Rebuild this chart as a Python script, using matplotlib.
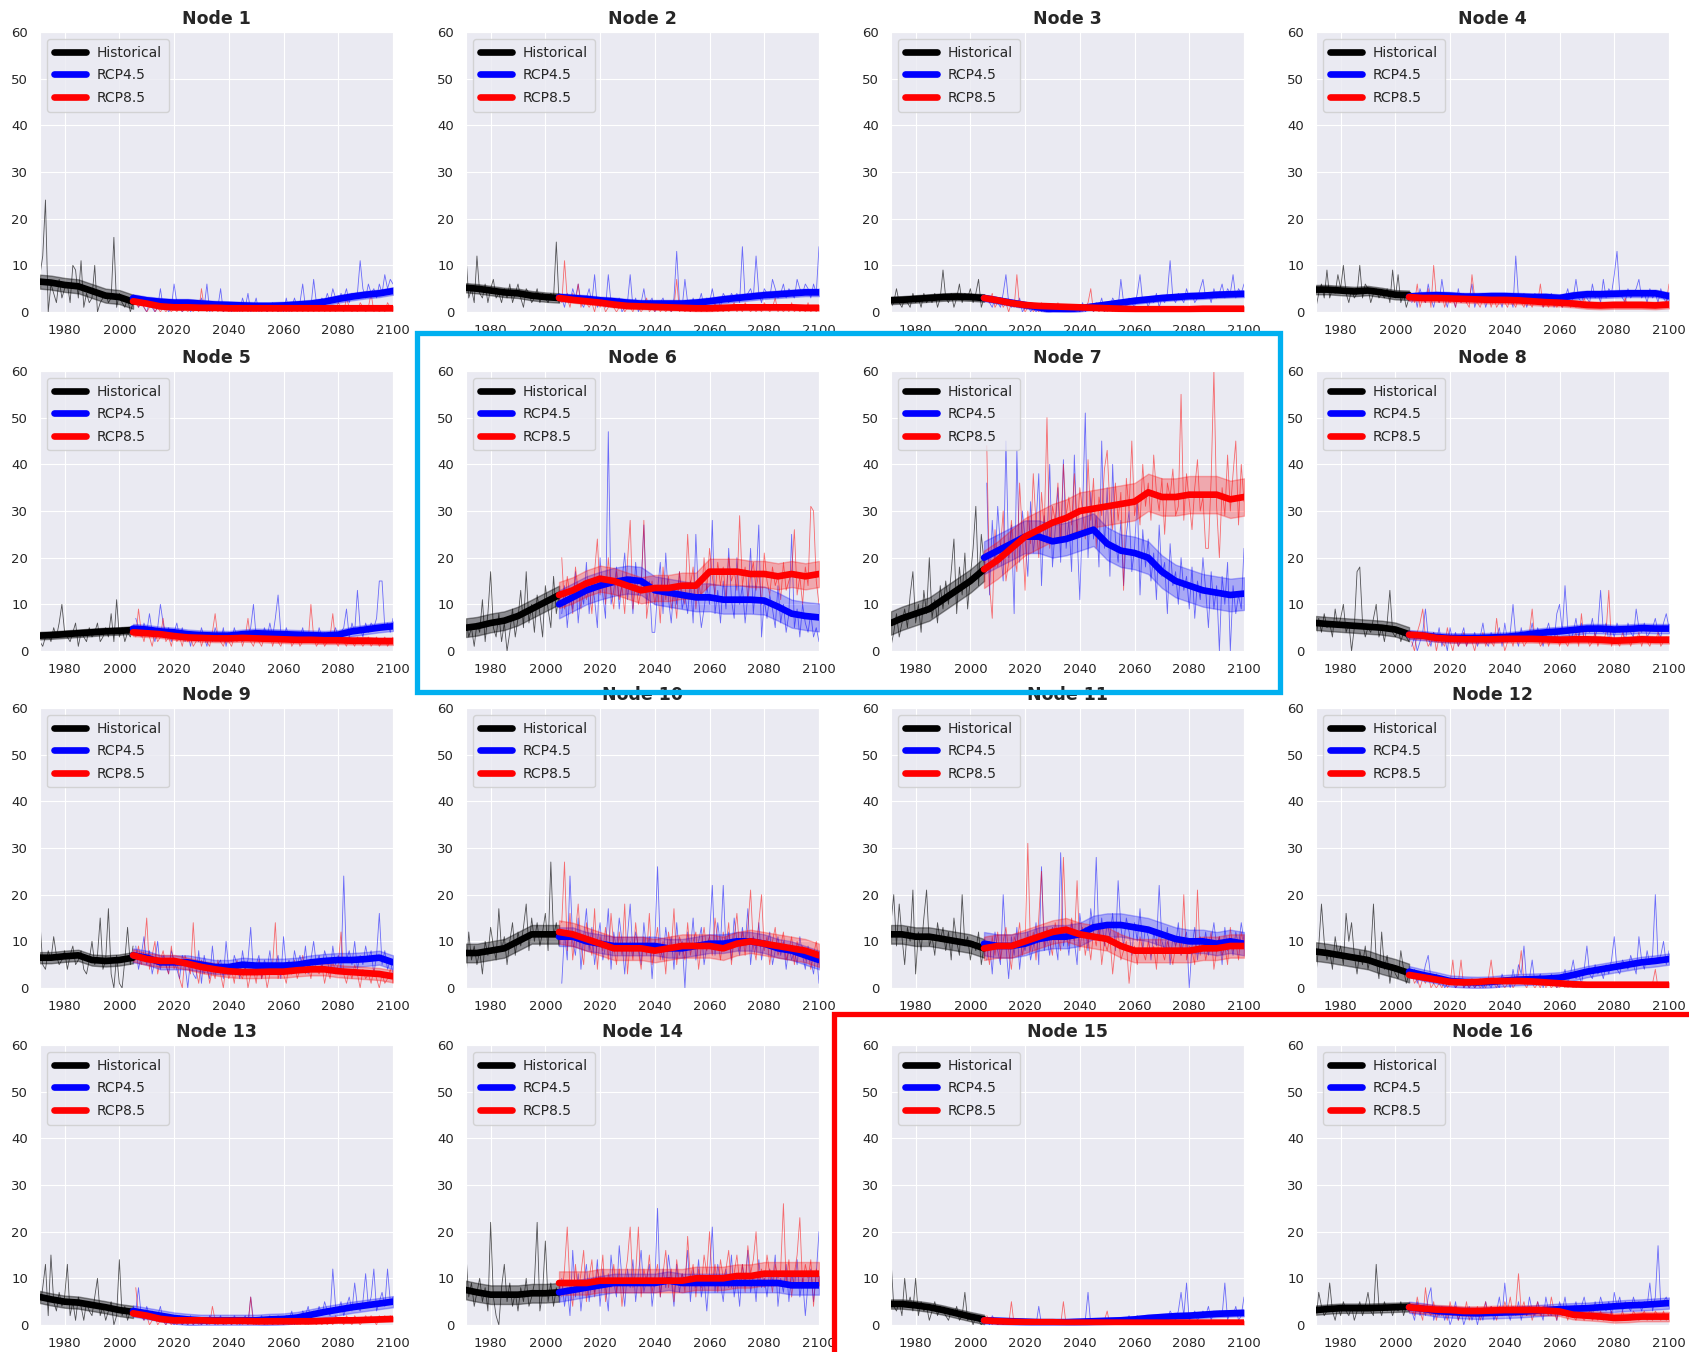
import numpy as np
import matplotlib
matplotlib.use("Agg")
import matplotlib.pyplot as plt
import seaborn as sns
from matplotlib.patches import Rectangle

sns.set_style("darkgrid")
plt.rcParams['font.family'] = ['DejaVu Sans']

# ---------------- data ----------------
HIST_START = 1971
FUT_START = 2006
HIST_KNOTS = [1971, 1975, 1980, 1985, 1990, 1995, 2000, 2005]
FUT_KNOTS = list(range(2005, 2101, 5))

# band half widths (hist, rcp4.5, rcp8.5) per node
BAND_H = [1.5, 1.0, 0.8, 1.0, 0.8, 2.0, 2.5, 1.5, 1.2, 2.0, 2.0, 2.0, 1.3, 2.0, 1.0, 1.0]
BAND_45 = [0.8, 0.8, 0.7, 0.8, 1.0, 3.0, 3.5, 1.0, 1.5, 2.0, 2.5, 1.2, 1.2, 2.0, 0.7, 1.2]
BAND_85 = [0.5, 0.6, 0.5, 0.8, 0.8, 2.8, 4.0, 0.8, 1.3, 2.5, 2.5, 0.5, 0.5, 2.5, 0.4, 1.0]

# Node 1
N1_HM = [6.5, 6.3, 5.8, 5.5, 4.5, 3.5, 3.2, 2.2]
N1_M45 = [3.0, 2.5, 2.2, 2.0, 2.0, 1.8, 1.6, 1.5, 1.4, 1.3, 1.3, 1.4, 1.6, 1.8, 2.2, 2.8, 3.3, 3.7, 4.0, 4.5]
N1_M85 = [2.3, 1.8, 1.2, 1.0, 1.0, 0.9, 0.9, 0.8, 0.8, 0.8, 0.8, 0.8, 0.8, 0.8, 0.8, 0.8, 0.8, 0.8, 0.8, 0.8]
N1_H = [8, 12, 24, 0, 6, 4, 2, 7, 3, 5, 6, 2, 10, 9, 3, 11, 1, 4, 2, 3, 10, 0, 2, 3, 4, 2, 3, 16, 1, 4, 2, 1, 3, 0, 2]
N1_R45 = [3, 1, 2, 1, 0, 2, 1, 0, 1, 5, 1, 2, 0, 1, 6, 2, 1, 0, 1, 2, 0, 1, 2, 1, 3, 1, 6, 0, 1, 2, 1, 5, 0, 1, 1,
          0, 1, 2, 0, 3, 1, 4, 0, 1, 3, 0, 1, 1, 0, 1, 2, 1, 0, 1, 0, 3, 0, 1, 3, 1, 2, 6, 1, 2, 1, 7, 2, 1, 3, 2,
          4, 2, 5, 3, 2, 4, 3, 5, 2, 4, 3, 4, 11, 5, 3, 6, 4, 5, 3, 6, 4, 8, 5, 7, 6]
N1_R85 = [2, 1, 3, 1, 0, 1, 2, 0, 1, 0, 1, 0, 1, 0, 1, 0, 1, 0, 1, 0, 1, 0, 1, 0, 5, 1, 0, 1, 0, 1, 0, 1, 0, 1, 0,
          1, 0, 0, 1, 0, 1, 0, 1, 0, 0, 1, 0, 1, 0, 1, 0, 1, 0, 0, 1, 0, 1, 0, 1, 0, 1, 0, 1, 0, 1, 0, 1, 0, 2, 0,
          1, 0, 1, 0, 2, 1, 0, 3, 1, 0, 1, 0, 2, 1, 0, 1, 4, 0, 1, 0, 1, 0, 2, 1, 0]

# Node 2
N2_HM = [5.2, 5.0, 4.6, 4.2, 4.0, 3.5, 3.2, 3.0]
N2_M45 = [3.2, 3.0, 2.8, 2.5, 2.3, 2.0, 1.8, 1.8, 1.8, 1.8, 2.0, 2.3, 2.7, 3.0, 3.3, 3.6, 3.8, 4.0, 4.2, 4.2]
N2_M85 = [3.0, 2.6, 2.3, 2.0, 1.6, 1.3, 1.2, 1.1, 1.0, 0.9, 0.8, 0.8, 0.9, 1.0, 1.0, 1.0, 1.0, 1.0, 0.9, 0.9]
N2_H = [12, 3, 5, 2, 12, 4, 3, 6, 2, 5, 7, 3, 4, 2, 5, 3, 6, 2, 4, 6, 3, 1, 5, 4, 2, 3, 5, 2, 4, 3, 2, 4, 3, 15, 2]
N2_R45 = [3, 1, 4, 2, 5, 3, 6, 2, 1, 3, 5, 2, 8, 1, 2, 3, 1, 8, 2, 1, 2, 3, 0, 1, 2, 8, 1, 3, 0, 2, 5, 1, 2, 3, 0,
          1, 2, 3, 1, 2, 0, 3, 13, 2, 1, 7, 2, 0, 3, 1, 2, 4, 1, 3, 2, 5, 2, 3, 1, 4, 3, 2, 4, 3, 4, 2, 14, 3, 4, 5,
          3, 12, 4, 2, 5, 4, 3, 7, 5, 3, 4, 6, 3, 5, 4, 3, 7, 5, 4, 6, 5, 3, 6, 4, 14]
N2_R85 = [2, 11, 3, 1, 4, 2, 6, 1, 3, 2, 1, 2, 0, 3, 1, 2, 0, 1, 3, 1, 0, 1, 2, 0, 1, 1, 0, 2, 1, 0, 1, 3, 0, 1, 0,
          2, 0, 1, 0, 1, 0, 1, 7, 0, 1, 0, 1, 0, 2, 0, 1, 0, 1, 0, 1, 0, 2, 0, 1, 0, 1, 0, 1, 2, 0, 1, 0, 2, 1, 0,
          1, 0, 1, 0, 2, 1, 0, 1, 3, 0, 1, 0, 1, 0, 2, 0, 1, 0, 1, 0, 2, 0, 1, 0, 1]

# Node 3
N3_HM = [2.5, 2.6, 2.8, 3.0, 3.2, 3.3, 3.2, 3.0]
N3_M45 = [3.0, 2.5, 2.0, 1.5, 1.0, 0.5, 0.6, 0.8, 1.2, 1.6, 2.0, 2.4, 2.7, 3.0, 3.2, 3.4, 3.5, 3.7, 3.8, 3.9]
N3_M85 = [3.0, 2.5, 1.9, 1.5, 1.3, 1.2, 1.1, 1.0, 0.9, 0.8, 0.7, 0.6, 0.6, 0.6, 0.6, 0.6, 0.7, 0.7, 0.7, 0.7]
N3_H = [1, 2, 5, 2, 1, 3, 2, 1, 4, 2, 3, 1, 4, 2, 3, 2, 4, 1, 3, 9, 3, 2, 4, 1, 3, 6, 2, 4, 3, 5, 2, 4, 7, 1, 3]
N3_R45 = [3, 2, 1, 3, 2, 1, 4, 8, 2, 1, 2, 1, 3, 0, 1, 2, 0, 1, 0, 1, 0, 1, 0, 0, 1, 0, 0, 1, 0, 0, 1, 0, 0, 1, 0,
          2, 0, 1, 1, 0, 2, 1, 3, 0, 2, 1, 3, 2, 1, 7, 2, 1, 3, 2, 1, 4, 8, 2, 3, 1, 3, 2, 4, 1, 3, 2, 4, 11, 3, 2,
          4, 3, 2, 5, 3, 4, 2, 3, 5, 7, 3, 4, 2, 5, 3, 4, 6, 3, 5, 4, 8, 3, 5, 4, 6]
N3_R85 = [3, 2, 4, 1, 2, 3, 1, 2, 0, 2, 1, 8, 1, 2, 0, 1, 2, 0, 1, 0, 2, 0, 1, 0, 1, 0, 2, 0, 1, 0, 1, 0, 0, 1, 0,
          0, 1, 2, 5, 0, 1, 0, 1, 0, 0, 1, 0, 0, 1, 0, 0, 1, 0, 0, 1, 0, 0, 1, 0, 0, 1, 0, 0, 1, 0, 0, 1, 0, 0, 1,
          0, 1, 0, 1, 0, 1, 0, 0, 1, 0, 0, 1, 0, 0, 1, 1, 0, 1, 0, 0, 0, 1, 0, 1, 0]

# Node 4
N4_HM = [4.8, 4.8, 4.6, 4.4, 4.6, 4.2, 3.7, 3.6]
N4_M45 = [3.3, 3.5, 3.6, 3.5, 3.3, 3.3, 3.4, 3.4, 3.3, 3.2, 3.2, 3.0, 3.5, 3.8, 3.8, 3.9, 4.0, 4.0, 4.0, 3.4]
N4_M85 = [3.2, 3.0, 3.0, 2.9, 2.8, 2.7, 2.6, 2.6, 2.5, 2.3, 2.1, 2.0, 1.8, 1.5, 1.4, 1.5, 1.5, 1.5, 1.4, 1.6]
N4_H = [1, 4, 6, 3, 9, 3, 5, 4, 8, 5, 10, 4, 2, 5, 3, 4, 10, 3, 6, 5, 2, 4, 5, 3, 4, 3, 5, 2, 9, 3, 8, 2, 4, 1, 3]
N4_R45 = [2, 4, 1, 5, 3, 2, 6, 3, 1, 4, 2, 7, 3, 1, 4, 3, 1, 5, 2, 4, 2, 3, 6, 1, 3, 2, 4, 1, 3, 2, 4, 2, 3, 1, 4,
          2, 3, 1, 12, 3, 2, 4, 1, 3, 2, 4, 2, 3, 1, 3, 2, 4, 1, 3, 2, 1, 3, 5, 2, 3, 7, 3, 2, 4, 3, 2, 6, 3, 4, 2,
          7, 3, 5, 4, 8, 13, 4, 3, 2, 5, 3, 4, 5, 7, 3, 4, 2, 5, 3, 4, 2, 5, 3, 2, 4]
N4_R85 = [4, 2, 6, 1, 3, 2, 5, 1, 10, 3, 2, 4, 1, 3, 2, 3, 1, 4, 2, 3, 2, 1, 8, 3, 2, 1, 3, 2, 4, 1, 3, 1, 2, 4, 2,
          1, 3, 2, 1, 3, 2, 1, 3, 2, 1, 3, 2, 6, 1, 2, 1, 3, 2, 1, 2, 1, 2, 3, 1, 2, 1, 2, 1, 3, 1, 2, 1, 1, 2, 1,
          1, 2, 1, 1, 2, 1, 2, 1, 3, 1, 2, 1, 1, 2, 1, 1, 2, 1, 1, 2, 1, 2, 1, 2, 6]

# Node 5
N5_HM = [3.3, 3.4, 3.6, 3.8, 4.0, 4.2, 4.3, 4.5]
N5_M45 = [4.8, 4.6, 4.2, 4.0, 3.6, 3.4, 3.3, 3.3, 3.6, 3.8, 3.7, 3.6, 3.5, 3.4, 3.3, 3.5, 4.2, 4.6, 5.0, 5.3]
N5_M85 = [4.0, 3.8, 3.6, 3.2, 2.9, 2.8, 2.7, 2.7, 2.8, 2.7, 2.6, 2.5, 2.4, 2.4, 2.3, 2.3, 2.2, 2.2, 2.1, 2.1]
N5_H = [2, 1, 3, 4, 2, 5, 3, 6, 10, 4, 3, 2, 4, 6, 1, 4, 3, 2, 5, 3, 4, 6, 2, 3, 5, 3, 8, 2, 11, 3, 5, 2, 4, 3, 5]
N5_R45 = [7, 5, 3, 6, 4, 8, 4, 2, 5, 10, 6, 3, 5, 2, 4, 6, 3, 5, 2, 4, 1, 4, 3, 2, 5, 3, 1, 4, 2, 5, 3, 2, 5, 1, 4,
          2, 5, 3, 4, 2, 4, 3, 5, 10, 3, 4, 2, 5, 3, 6, 3, 7, 12, 4, 2, 5, 3, 4, 2, 4, 3, 5, 2, 4, 3, 4, 2, 5, 3, 4,
          2, 4, 3, 5, 3, 4, 5, 9, 3, 6, 4, 13, 5, 3, 6, 4, 6, 5, 7, 15, 15, 5, 6, 4, 7]
N5_R85 = [3, 9, 4, 2, 5, 3, 1, 4, 2, 3, 7, 2, 3, 1, 4, 2, 3, 1, 4, 2, 3, 1, 2, 4, 1, 3, 2, 1, 4, 8, 3, 2, 1, 3, 2,
          1, 3, 2, 4, 1, 3, 7, 2, 1, 3, 2, 1, 3, 2, 4, 1, 3, 2, 1, 3, 2, 4, 1, 2, 3, 1, 2, 3, 2, 10, 3, 1, 2, 3, 1,
          2, 3, 8, 2, 1, 3, 2, 1, 3, 2, 1, 3, 2, 1, 2, 3, 1, 2, 3, 1, 2, 3, 1, 2, 3]

# Node 6
N6_HM = [5.0, 5.3, 6.0, 6.5, 7.5, 9.0, 10.5, 12.0]
N6_M45 = [10.0, 11.5, 13.0, 14.0, 14.8, 15.3, 15.0, 13.0, 12.5, 12.0, 11.5, 11.5, 11.0, 11.0, 11.0, 10.8, 9.5, 8.0, 7.5, 7.2]
N6_M85 = [12.0, 13.0, 14.5, 15.5, 15.0, 14.0, 13.0, 13.5, 13.5, 14.0, 14.0, 17.0, 17.0, 17.0, 16.5, 16.5, 16.0, 16.5, 16.0, 16.5]
N6_H = [7, 3, 5, 1, 6, 4, 11, 2, 8, 17, 5, 3, 8, 2, 6, 0, 4, 9, 3, 7, 13, 5, 17, 6, 10, 4, 12, 8, 3, 14, 9, 5, 16, 8, 12]
N6_R45 = [8, 14, 5, 12, 9, 17, 6, 13, 10, 19, 8, 15, 11, 5, 20, 12, 7, 47, 10, 13, 18, 9, 15, 21, 11, 16, 8, 19, 12, 14,
          27, 10, 15, 4, 4, 13, 19, 8, 21, 11, 6, 14, 10, 17, 9, 12, 8, 15, 6, 25, 11, 5, 9, 14, 10, 28, 8, 13, 6, 15,
          9, 22, 11, 7, 20, 10, 14, 6, 12, 22, 8, 15, 27, 3, 11, 7, 12, 9, 5, 14, 6, 10, 4, 8, 25, 5, 9, 3, 10, 6,
          4, 8, 3, 5, 2]
N6_R85 = [20, 9, 16, 12, 8, 18, 13, 9, 15, 11, 14, 8, 17, 24, 12, 16, 10, 20, 13, 9, 17, 11, 14, 8, 19, 28, 9, 15, 10, 13,
          28, 7, 12, 15, 10, 14, 6, 18, 11, 16, 9, 13, 7, 17, 12, 10, 25, 14, 18, 9, 15, 11, 20, 13, 22, 16, 12, 19, 14, 18,
          11, 20, 15, 17, 13, 29, 14, 18, 11, 16, 19, 13, 17, 10, 21, 15, 12, 18, 14, 16, 11, 19, 13, 15, 17, 26, 12, 16, 10, 18,
          14, 31, 30, 15, 10]

# Node 7
N7_HM = [6.0, 7.0, 8.0, 9.0, 11.0, 13.0, 15.0, 17.5]
N7_M45 = [20.0, 21.5, 23.0, 24.5, 24.5, 23.5, 24.0, 25.0, 26.0, 23.0, 21.5, 21.0, 20.0, 17.0, 15.0, 14.0, 13.0, 12.5, 12.0, 12.3]
N7_M85 = [17.5, 19.5, 22.0, 24.5, 26.0, 27.5, 28.5, 30.0, 30.5, 31.0, 31.5, 32.0, 34.0, 33.0, 33.0, 33.5, 33.5, 33.5, 32.5, 33.0]
N7_H = [1, 4, 8, 3, 6, 9, 5, 12, 17, 6, 10, 4, 13, 8, 20, 7, 11, 6, 14, 9, 15, 10, 17, 24, 8, 18, 12, 21, 9, 16, 22, 31, 14, 25, 19]
N7_R45 = [36, 12, 28, 18, 31, 22, 15, 45, 20, 27, 8, 43, 19, 30, 24, 16, 32, 21, 27, 38, 14, 29, 23, 40, 18, 26, 35, 19, 41, 22,
          28, 17, 42, 25, 11, 30, 51, 20, 34, 24, 29, 18, 45, 22, 35, 16, 40, 24, 19, 28, 14, 25, 30, 17, 22, 33, 12, 26, 18, 24,
          15, 21, 11, 27, 16, 19, 8, 23, 14, 17, 10, 20, 13, 16, 9, 18, 7, 15, 11, 20, 13, 5, 17, 9, 14, 0, 16, 10, 19, 0,
          14, 8, 12, 9, 22]
N7_R85 = [44, 14, 7, 26, 18, 22, 30, 15, 19, 28, 21, 17, 36, 25, 13, 30, 23, 38, 27, 20, 34, 26, 50, 22, 31, 28, 36, 24, 40, 29,
          33, 27, 38, 25, 35, 30, 24, 41, 28, 37, 22, 33, 29, 39, 43, 31, 26, 36, 28, 34, 13, 37, 30, 45, 29, 33, 27, 40, 31, 36,
          28, 42, 34, 30, 37, 25, 36, 33, 39, 29, 31, 55, 28, 38, 32, 26, 35, 41, 30, 33, 22, 22, 37, 60, 31, 20, 35, 29, 42, 30,
          38, 45, 27, 40, 32]

# Node 8
N8_HM = [6.0, 5.8, 5.6, 5.4, 5.2, 5.0, 4.6, 3.6]
N8_M45 = [3.5, 3.3, 3.0, 2.8, 2.8, 2.8, 2.9, 3.0, 3.3, 3.7, 4.0, 4.2, 4.5, 4.8, 4.8, 4.6, 4.7, 4.9, 4.8, 4.8]
N8_M85 = [3.5, 3.3, 2.8, 2.6, 2.5, 2.5, 2.5, 2.6, 2.6, 2.6, 2.5, 2.4, 2.5, 2.5, 2.4, 2.2, 2.3, 2.5, 2.4, 2.4]
N8_H = [3, 7, 4, 8, 5, 6, 3, 9, 5, 7, 10, 4, 6, 0, 5, 17, 18, 6, 3, 5, 4, 7, 10, 3, 5, 2, 6, 13, 4, 3, 5, 2, 4, 3, 2]
N8_R45 = [1, 3, 0, 2, 4, 9, 3, 1, 4, 2, 5, 1, 3, 0, 5, 2, 4, 1, 3, 5, 1, 3, 2, 4, 1, 3, 6, 2, 1, 4, 2, 3, 5, 1, 6,
          2, 4, 10, 3, 1, 5, 2, 4, 3, 6, 2, 5, 3, 1, 4, 6, 3, 2, 8, 10, 4, 14, 5, 2, 4, 7, 3, 6, 2, 5, 4, 7, 3, 5, 13,
          4, 6, 2, 5, 3, 6, 4, 5, 2, 6, 4, 3, 9, 5, 4, 6, 3, 4, 5, 7, 4, 3, 6, 8, 5]
N8_R85 = [2, 0, 4, 6, 9, 3, 1, 2, 4, 0, 3, 2, 1, 5, 2, 0, 3, 1, 2, 4, 1, 3, 2, 0, 3, 2, 4, 1, 3, 2, 1, 7, 2, 3, 0,
          2, 3, 1, 4, 2, 3, 1, 2, 4, 9, 2, 3, 1, 2, 4, 1, 3, 2, 4, 1, 3, 2, 1, 3, 2, 4, 1, 8, 2, 3, 1, 2, 4, 1, 3,
          2, 4, 13, 1, 3, 2, 1, 4, 2, 3, 1, 3, 2, 4, 1, 3, 2, 1, 3, 2, 4, 1, 2, 3, 2]

# Node 9
N9_HM = [6.5, 6.5, 6.8, 7.0, 6.0, 5.8, 6.0, 6.5]
N9_M45 = [7.0, 6.5, 5.5, 5.5, 5.5, 5.0, 4.5, 4.5, 5.0, 4.8, 4.8, 4.8, 5.0, 5.5, 5.8, 6.0, 6.0, 6.2, 6.5, 5.5]
N9_M85 = [7.0, 6.2, 5.8, 5.8, 5.2, 4.5, 4.0, 3.6, 3.4, 3.4, 3.5, 3.5, 3.8, 4.0, 4.0, 3.6, 3.4, 3.2, 3.0, 2.5]
N9_H = [14, 5, 4, 8, 6, 11, 7, 5, 6, 8, 4, 7, 9, 5, 6, 8, 4, 3, 6, 10, 5, 7, 15, 4, 6, 17, 3, 0, 7, 1, 0, 6, 13, 5, 9]
N9_R45 = [9, 4, 7, 11, 5, 8, 3, 6, 10, 4, 7, 5, 3, 8, 6, 4, 2, 7, 5, 0, 6, 3, 2, 8, 1, 7, 4, 2, 9, 3, 5, 6, 2, 10, 4,
          3, 7, 5, 2, 8, 4, 6, 13, 3, 5, 7, 2, 6, 4, 8, 3, 5, 7, 2, 11, 4, 6, 3, 8, 5, 7, 4, 9, 3, 6, 10, 5, 7, 4, 8,
          6, 3, 9, 5, 7, 4, 24, 6, 8, 5, 10, 4, 7, 5, 9, 6, 8, 3, 7, 16, 5, 8, 4, 6, 3]
N9_R85 = [6, 9, 5, 8, 15, 4, 7, 10, 3, 6, 8, 5, 3, 9, 4, 6, 2, 0, 7, 5, 3, 14, 4, 1, 6, 3, 5, 1, 4, 2, 6, 3, 0, 5, 2,
          4, 1, 6, 3, 2, 5, 0, 3, 4, 1, 6, 2, 4, 0, 3, 5, 14, 2, 4, 3, 1, 5, 3, 6, 2, 4, 7, 3, 5, 2, 6, 4, 3, 5, 1,
          4, 2, 6, 3, 5, 12, 3, 1, 4, 2, 5, 3, 0, 4, 2, 3, 1, 4, 2, 0, 3, 1, 2, 4, 1]

# Node 10
N10_HM = [7.5, 7.5, 8.0, 8.5, 10.0, 11.5, 11.5, 11.5]
N10_M45 = [11.0, 11.0, 10.0, 9.5, 9.0, 9.0, 9.0, 9.0, 8.5, 8.5, 9.0, 9.5, 9.5, 10.0, 10.0, 9.5, 8.5, 8.0, 7.0, 6.0]
N10_M85 = [12.0, 11.5, 10.5, 9.5, 8.5, 8.5, 8.5, 8.0, 8.5, 9.0, 9.0, 9.0, 8.5, 9.5, 10.0, 9.5, 9.0, 8.5, 8.0, 7.0]
N10_H = [2, 12, 6, 9, 5, 8, 3, 10, 7, 13, 9, 6, 17, 8, 11, 5, 10, 14, 7, 12, 9, 13, 18, 8, 15, 10, 14, 9, 12, 16, 8, 27, 11, 14, 9]
N10_R45 = [1, 12, 6, 24, 10, 7, 15, 4, 11, 17, 8, 13, 5, 10, 14, 6, 9, 17, 4, 12, 8, 15, 10, 3, 11, 18, 7, 12, 9, 5,
           14, 8, 11, 2, 10, 26, 9, 6, 13, 8, 11, 4, 14, 7, 10, 0, 12, 8, 15, 6, 10, 13, 5, 9, 11, 22, 7, 14, 9, 22,
           8, 12, 6, 15, 10, 7, 13, 9, 17, 5, 11, 8, 14, 6, 10, 9, 12, 5, 8, 11, 7, 10, 4, 9, 6, 8, 5, 11, 7, 4,
           9, 6, 3, 8, 1]
N10_R85 = [14, 27, 8, 16, 6, 12, 18, 9, 5, 14, 10, 7, 17, 4, 11, 8, 13, 6, 16, 9, 5, 12, 7, 18, 3, 10, 6, 14, 8, 4,
           11, 7, 16, 5, 9, 13, 6, 10, 3, 12, 8, 17, 5, 11, 9, 6, 14, 7, 10, 12, 4, 9, 13, 8, 11, 7, 15, 10, 6, 12,
           9, 14, 5, 11, 16, 8, 12, 7, 13, 21, 9, 6, 14, 20, 8, 11, 5, 10, 13, 7, 9, 12, 6, 8, 11, 5, 10, 7, 9, 6,
           8, 4, 7, 10, 5]

# Node 11
N11_HM = [11.5, 11.5, 11.0, 11.0, 10.5, 10.0, 9.5, 8.5]
N11_M45 = [9.5, 9.0, 9.0, 9.5, 10.5, 11.0, 11.0, 11.5, 13.0, 13.5, 13.5, 13.0, 12.5, 11.5, 10.5, 10.0, 10.0, 9.5, 10.0, 9.5]
N11_M85 = [8.5, 9.0, 9.0, 10.0, 11.0, 12.0, 12.5, 11.5, 11.0, 10.5, 9.0, 8.0, 8.0, 8.0, 8.0, 8.0, 8.5, 8.5, 9.0, 9.0]
N11_H = [14, 20, 9, 18, 11, 5, 13, 10, 21, 3, 12, 8, 15, 21, 9, 11, 7, 14, 10, 13, 8, 12, 6, 15, 10, 7, 20, 9, 11, 6, 10, 8, 12, 5, 9]
N11_R45 = [6, 10, 3, 12, 8, 5, 20, 9, 2, 11, 7, 13, 4, 10, 8, 12, 6, 9, 14, 5, 26, 8, 11, 7, 13, 10, 6, 29, 9, 12,
           7, 14, 10, 5, 16, 11, 13, 8, 17, 12, 28, 10, 15, 9, 14, 11, 16, 8, 23, 13, 9, 15, 12, 7, 14, 10, 17, 8, 13, 11,
           6, 12, 9, 22, 10, 8, 13, 5, 11, 9, 14, 7, 10, 12, 0, 9, 13, 6, 11, 8, 12, 7, 10, 14, 9, 11, 5, 13, 8, 10,
           7, 12, 9, 14, 10]
N11_R85 = [9, 5, 11, 7, 12, 6, 10, 13, 8, 4, 11, 9, 14, 7, 10, 31, 8, 12, 6, 15, 25, 9, 13, 10, 7, 14, 11, 8, 28, 12,
           9, 15, 10, 23, 8, 13, 7, 11, 6, 12, 9, 14, 5, 10, 8, 11, 3, 9, 12, 6, 8, 10, 1, 7, 9, 5, 11, 8, 6, 10,
           7, 9, 4, 12, 8, 6, 10, 8, 5, 9, 11, 7, 20, 6, 9, 8, 5, 21, 7, 10, 6, 9, 12, 4, 8, 11, 7, 9, 5, 13,
           8, 10, 6, 12, 9]

# Node 12
N12_HM = [7.8, 7.5, 7.0, 6.5, 6.0, 5.0, 4.2, 3.2]
N12_M45 = [3.5, 2.8, 2.2, 1.5, 1.3, 1.2, 1.3, 1.6, 1.8, 1.9, 2.0, 2.2, 2.8, 3.5, 4.0, 4.5, 5.0, 5.5, 5.8, 6.2]
N12_M85 = [2.8, 2.3, 1.8, 1.3, 1.2, 1.3, 1.5, 1.5, 1.5, 1.4, 1.2, 1.0, 0.8, 0.7, 0.7, 0.7, 0.7, 0.7, 0.7, 0.7]
N12_H = [3, 9, 18, 10, 6, 8, 4, 11, 7, 9, 5, 16, 10, 14, 7, 3, 8, 5, 9, 4, 7, 18, 6, 2, 12, 4, 7, 1, 5, 3, 2, 8, 4, 1, 3]
N12_R45 = [2, 4, 1, 3, 2, 5, 7, 2, 1, 3, 1, 2, 0, 1, 2, 1, 0, 1, 2, 0, 1, 0, 1, 0, 1, 2, 0, 1, 1, 0, 2, 1, 0, 3, 1,
           2, 0, 4, 1, 5, 3, 9, 1, 2, 6, 1, 2, 3, 0, 2, 1, 3, 2, 0, 1, 2, 4, 1, 3, 6, 2, 3, 1, 4, 9, 3, 2, 5, 3, 4,
           2, 5, 3, 6, 11, 4, 3, 6, 5, 4, 7, 5, 3, 11, 6, 4, 8, 5, 7, 20, 6, 7, 10, 5, 8]
N12_R85 = [3, 1, 2, 0, 2, 1, 3, 0, 1, 0, 1, 0, 2, 0, 1, 6, 0, 1, 6, 0, 1, 0, 2, 0, 1, 0, 1, 0, 2, 6, 1, 0, 2, 1, 0,
           1, 2, 0, 1, 3, 8, 1, 0, 2, 1, 0, 1, 0, 2, 0, 1, 0, 1, 0, 0, 1, 0, 0, 1, 0, 0, 1, 0, 0, 1, 0, 0, 1, 0, 0,
           1, 0, 0, 1, 0, 0, 1, 0, 0, 1, 0, 0, 1, 0, 0, 1, 0, 0, 1, 4, 0, 1, 0, 0, 1]

# Node 13
N13_HM = [6.0, 5.5, 5.0, 4.8, 4.3, 3.8, 3.2, 2.8]
N13_M45 = [3.0, 2.5, 2.0, 1.5, 1.2, 1.0, 1.0, 1.0, 1.0, 1.0, 1.2, 1.3, 1.6, 2.2, 2.8, 3.3, 3.8, 4.2, 4.6, 5.0]
N13_M85 = [2.5, 2.0, 1.3, 1.0, 1.0, 1.0, 0.9, 0.9, 0.9, 0.8, 0.8, 0.8, 0.8, 0.8, 0.9, 1.0, 1.0, 1.1, 1.2, 1.3]
N13_H = [4, 8, 13, 2, 15, 5, 3, 7, 4, 6, 13, 2, 5, 1, 6, 4, 1, 5, 3, 2, 6, 10, 2, 4, 1, 3, 5, 0, 2, 14, 2, 4, 1, 3, 2]
N13_R45 = [3, 8, 2, 1, 4, 2, 3, 1, 2, 4, 1, 0, 2, 1, 0, 1, 2, 0, 1, 0, 2, 0, 1, 1, 0, 1, 0, 2, 1, 0, 1, 2, 0, 1, 1,
           0, 2, 1, 0, 1, 2, 0, 6, 1, 0, 1, 2, 0, 1, 2, 0, 1, 2, 1, 0, 2, 1, 3, 0, 2, 1, 3, 2, 4, 1, 3, 2, 4, 2, 5,
           3, 2, 12, 4, 3, 5, 2, 4, 6, 3, 9, 4, 3, 5, 11, 4, 6, 12, 3, 5, 7, 4, 12, 5, 6]
N13_R85 = [8, 2, 3, 1, 2, 0, 1, 2, 0, 1, 1, 0, 1, 0, 1, 0, 1, 0, 1, 0, 1, 0, 1, 0, 0, 1, 0, 0, 4, 1, 0, 1, 0, 0, 1,
           0, 1, 0, 1, 0, 1, 0, 6, 0, 1, 0, 1, 0, 0, 1, 0, 1, 0, 1, 0, 1, 0, 0, 1, 0, 0, 1, 0, 0, 1, 1, 0, 1, 0, 1,
           0, 1, 0, 2, 1, 1, 0, 2, 1, 0, 2, 1, 0, 1, 2, 1, 2, 1, 0, 2, 1, 2, 1, 2, 1]

# Node 14
N14_HM = [7.5, 7.0, 6.5, 6.5, 6.5, 6.8, 6.8, 7.0]
N14_M45 = [7.0, 7.5, 8.0, 8.5, 9.0, 9.0, 9.0, 9.0, 9.5, 9.0, 9.0, 9.0, 9.0, 9.0, 9.0, 9.0, 9.0, 8.5, 8.5, 8.5]
N14_M85 = [9.0, 9.0, 9.0, 9.5, 9.5, 9.5, 9.5, 9.5, 9.5, 9.5, 10.0, 10.0, 10.0, 10.5, 10.5, 11.0, 11.0, 11.0, 11.0, 11.0]
N14_H = [15, 6, 9, 4, 7, 10, 5, 8, 3, 22, 6, 2, 0, 8, 13, 5, 9, 4, 7, 3, 8, 5, 10, 4, 6, 9, 22, 3, 7, 18, 5, 9, 4, 8, 6]
N14_R45 = [10, 4, 8, 2, 16, 6, 11, 3, 9, 13, 5, 10, 7, 14, 4, 12, 8, 3, 15, 9, 6, 17, 10, 4, 12, 8, 14, 5, 11, 16,
           7, 10, 13, 4, 9, 25, 6, 12, 8, 15, 10, 4, 13, 7, 11, 9, 16, 5, 12, 8, 14, 6, 10, 3, 11, 21, 7, 13, 9, 5,
           12, 8, 15, 6, 10, 4, 13, 9, 16, 7, 11, 5, 14, 8, 10, 6, 12, 9, 15, 4, 10, 7, 13, 5, 11, 8, 14, 6, 10, 2,
           9, 12, 5, 11, 20]
N14_R85 = [6, 12, 21, 8, 4, 13, 7, 11, 16, 5, 10, 14, 6, 12, 9, 15, 5, 11, 8, 13, 7, 12, 4, 10, 14, 21, 8, 11, 21, 6,
           12, 9, 15, 7, 10, 13, 6, 11, 16, 8, 12, 5, 14, 9, 11, 7, 19, 10, 13, 6, 12, 8, 15, 11, 20, 9, 13, 7, 14, 10,
           12, 16, 8, 11, 15, 9, 13, 7, 17, 11, 14, 20, 9, 12, 8, 15, 11, 7, 13, 10, 12, 26, 9, 14, 6, 11, 15, 23, 8, 13,
           10, 14, 4, 12, 9]

# Node 15
N15_HM = [4.5, 4.5, 4.2, 3.8, 3.2, 2.5, 1.8, 1.2]
N15_M45 = [1.0, 0.9, 0.8, 0.7, 0.6, 0.6, 0.6, 0.7, 0.8, 0.9, 1.0, 1.2, 1.5, 1.7, 1.9, 2.0, 2.2, 2.4, 2.5, 2.6]
N15_M85 = [1.0, 0.8, 0.7, 0.6, 0.6, 0.6, 0.5, 0.5, 0.5, 0.5, 0.5, 0.5, 0.5, 0.5, 0.5, 0.5, 0.5, 0.5, 0.5, 0.5]
N15_H = [14, 4, 3, 5, 2, 10, 4, 6, 3, 10, 2, 5, 3, 4, 1, 3, 5, 2, 4, 3, 2, 1, 3, 2, 4, 1, 2, 7, 1, 2, 0, 2, 1, 0, 1]
N15_R45 = [1, 0, 2, 1, 0, 1, 0, 1, 0, 1, 0, 1, 0, 1, 0, 0, 1, 0, 0, 4, 0, 1, 0, 0, 1, 0, 0, 1, 0, 0, 1, 0, 0, 1, 0,
           0, 1, 7, 0, 1, 0, 1, 0, 1, 0, 1, 0, 1, 0, 1, 0, 1, 2, 0, 1, 2, 1, 0, 2, 1, 1, 2, 1, 0, 2, 2, 1, 3, 2, 1,
           3, 7, 2, 9, 1, 2, 3, 1, 2, 3, 2, 4, 1, 3, 2, 3, 2, 9, 1, 3, 2, 4, 1, 2, 6]
N15_R85 = [2, 1, 0, 1, 0, 1, 0, 1, 0, 5, 0, 1, 0, 0, 1, 0, 0, 1, 0, 0, 1, 0, 0, 0, 1, 0, 0, 0, 5, 0, 0, 1, 0, 0, 0,
           1, 0, 0, 0, 1, 0, 0, 0, 1, 3, 0, 0, 1, 0, 0, 0, 1, 0, 0, 0, 1, 0, 0, 0, 1, 0, 0, 1, 0, 0, 0, 1, 0, 0, 0,
           1, 0, 0, 0, 1, 0, 0, 1, 0, 0, 0, 1, 0, 0, 0, 1, 0, 0, 1, 0, 0, 0, 1, 0, 0]

# Node 16
N16_HM = [3.2, 3.4, 3.6, 3.6, 3.6, 3.7, 3.8, 3.9]
N16_M45 = [3.8, 3.5, 3.0, 2.8, 2.6, 2.5, 2.6, 2.7, 2.8, 3.0, 3.2, 3.4, 3.5, 3.6, 3.8, 4.0, 4.2, 4.3, 4.5, 4.7]
N16_M85 = [3.8, 3.5, 3.3, 3.2, 3.0, 3.0, 3.1, 3.2, 3.2, 3.2, 3.1, 2.9, 2.2, 2.0, 1.8, 1.5, 1.6, 1.8, 1.8, 1.8]
N16_H = [1, 7, 4, 2, 3, 9, 3, 1, 4, 2, 5, 3, 2, 4, 1, 3, 5, 2, 4, 7, 3, 2, 13, 4, 2, 5, 3, 4, 2, 4, 3, 5, 2, 4, 3]
N16_R45 = [3, 1, 5, 2, 4, 2, 6, 8, 1, 3, 2, 4, 1, 3, 0, 2, 5, 1, 3, 0, 2, 4, 1, 3, 0, 3, 1, 5, 2, 4, 1, 3, 6, 2, 9,
           3, 1, 4, 2, 5, 1, 4, 2, 6, 3, 2, 5, 3, 1, 6, 3, 2, 4, 1, 5, 3, 6, 2, 4, 3, 5, 2, 4, 6, 3, 4, 2, 5, 3, 6,
           4, 3, 5, 2, 7, 4, 6, 3, 5, 4, 3, 6, 4, 5, 3, 5, 4, 9, 3, 6, 17, 4, 5, 6, 4]
N16_R85 = [4, 2, 6, 3, 1, 8, 3, 2, 5, 1, 4, 2, 3, 1, 5, 2, 4, 1, 3, 2, 5, 1, 3, 2, 4, 1, 3, 5, 2, 4, 3, 1, 4, 2, 5,
           3, 6, 2, 4, 11, 3, 5, 2, 4, 1, 3, 5, 2, 4, 3, 2, 6, 3, 1, 4, 2, 3, 1, 4, 2, 1, 3, 2, 1, 2, 3, 1, 2, 1, 3,
           1, 2, 1, 3, 1, 2, 1, 3, 1, 2, 1, 3, 2, 1, 2, 3, 1, 2, 1, 3, 2, 1, 3, 1, 2]

NODES = [
    (N1_HM, N1_M45, N1_M85, N1_H, N1_R45, N1_R85),
    (N2_HM, N2_M45, N2_M85, N2_H, N2_R45, N2_R85),
    (N3_HM, N3_M45, N3_M85, N3_H, N3_R45, N3_R85),
    (N4_HM, N4_M45, N4_M85, N4_H, N4_R45, N4_R85),
    (N5_HM, N5_M45, N5_M85, N5_H, N5_R45, N5_R85),
    (N6_HM, N6_M45, N6_M85, N6_H, N6_R45, N6_R85),
    (N7_HM, N7_M45, N7_M85, N7_H, N7_R45, N7_R85),
    (N8_HM, N8_M45, N8_M85, N8_H, N8_R45, N8_R85),
    (N9_HM, N9_M45, N9_M85, N9_H, N9_R45, N9_R85),
    (N10_HM, N10_M45, N10_M85, N10_H, N10_R45, N10_R85),
    (N11_HM, N11_M45, N11_M85, N11_H, N11_R45, N11_R85),
    (N12_HM, N12_M45, N12_M85, N12_H, N12_R45, N12_R85),
    (N13_HM, N13_M45, N13_M85, N13_H, N13_R45, N13_R85),
    (N14_HM, N14_M45, N14_M85, N14_H, N14_R45, N14_R85),
    (N15_HM, N15_M45, N15_M85, N15_H, N15_R45, N15_R85),
    (N16_HM, N16_M45, N16_M85, N16_H, N16_R45, N16_R85),
]
TITLES = [f"Node {i}" for i in range(1, 17)]
LABELS = ["Historical", "RCP4.5", "RCP8.5"]

# ---------------- layout ----------------
W, H = 1690, 1352
LEFTS = [40, 466, 891, 1316]
TOPS = [32, 371, 708, 1045]
AW, AH = 353, 280

fig = plt.figure(figsize=(W / 100, H / 100), dpi=100)

HC, BC, RC = "black", "#0000FF", "#FF0000"

for i, (hm, m45, m85, h, r45, r85) in enumerate(NODES):
    r, c = divmod(i, 4)
    ax = fig.add_axes([LEFTS[c] / W, 1 - (TOPS[r] + AH) / H, AW / W, AH / H])
    hk = np.array(HIST_KNOTS); fk = np.array(FUT_KNOTS)
    hm = np.array(hm); m45 = np.array(m45); m85 = np.array(m85)
    hy = np.arange(HIST_START, HIST_START + len(h))
    fy45 = np.arange(FUT_START, FUT_START + len(r45))
    fy85 = np.arange(FUT_START, FUT_START + len(r85))

    # thin annual lines
    ax.plot(hy, h, color=HC, lw=0.6, alpha=0.65, zorder=2)
    ax.plot(fy45, r45, color=BC, lw=0.6, alpha=0.55, zorder=2)
    ax.plot(fy85, r85, color=RC, lw=0.6, alpha=0.55, zorder=2)

    # bands
    ax.fill_between(hk, hm - BAND_H[i], hm + BAND_H[i], color=HC, alpha=0.4, lw=1.0, zorder=3)
    ax.fill_between(fk, m45 - BAND_45[i], m45 + BAND_45[i], color=BC, alpha=0.28, lw=1.0, zorder=3)
    ax.fill_between(fk, m85 - BAND_85[i], m85 + BAND_85[i], color=RC, alpha=0.28, lw=1.0, zorder=3)

    # means
    ax.plot(hk, hm, color=HC, lw=4.8, label=LABELS[0], zorder=4, solid_capstyle="round")
    ax.plot(fk, m45, color=BC, lw=4.8, label=LABELS[1], zorder=4, solid_capstyle="round")
    ax.plot(fk, m85, color=RC, lw=4.8, label=LABELS[2], zorder=5, solid_capstyle="round")

    ax.set_xlim(1971, 2100)
    ax.set_ylim(0, 60)
    ax.set_xticks(range(1980, 2101, 20))
    ax.set_yticks(range(0, 61, 10))
    ax.tick_params(labelsize=9.5, pad=5, colors="#262626")
    ax.set_title(TITLES[i], fontsize=12.5, fontweight="bold", pad=6, color="#262626")
    ax.legend(loc="upper left", fontsize=10, handlelength=2.3, borderpad=0.5,
              labelspacing=0.6, frameon=True)

# highlight rectangles
fig.add_artist(Rectangle((417 / W, 1 - 692 / H), (1280 - 417) / W, (692 - 333) / H,
                         transform=fig.transFigure, fill=False, edgecolor="#00B0F0",
                         lw=3.8, zorder=20))
fig.add_artist(Rectangle((834 / W, 1 - 1370 / H), (1710 - 834) / W, (1370 - 1014) / H,
                         transform=fig.transFigure, fill=False, edgecolor="#FF0000",
                         lw=3.8, zorder=20))

fig.savefig("out.png", dpi=100)
